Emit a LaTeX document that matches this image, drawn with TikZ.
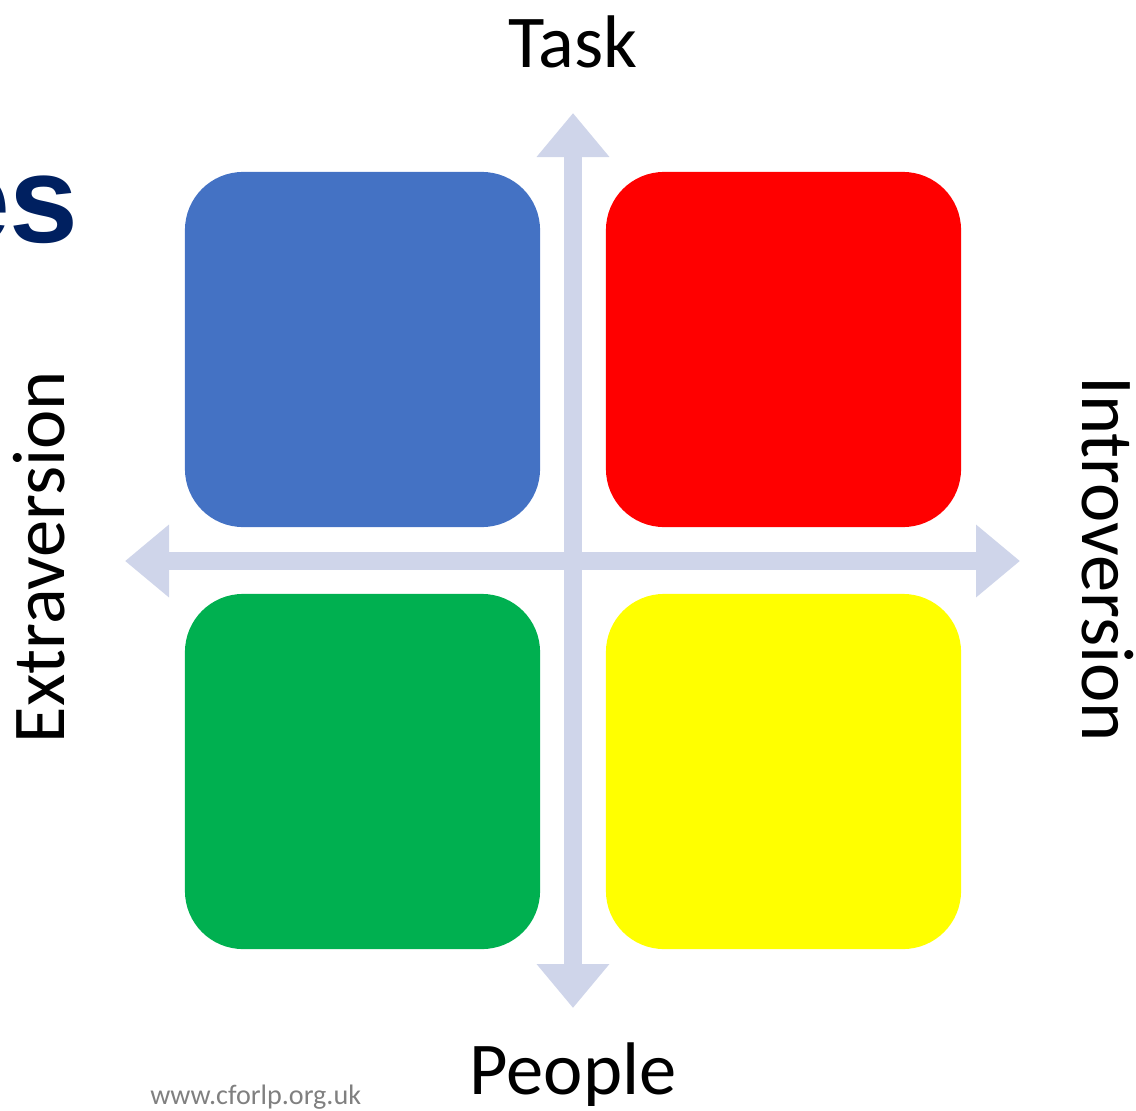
\documentclass[tikz,border=0pt]{standalone}
\usepackage{fontspec}
\setmainfont{Carlito}
\newfontfamily\titlefont{Liberation Sans}
\usetikzlibrary{arrows.meta}

\definecolor{axisgray}{RGB}{207,213,234}
\definecolor{quadblue}{RGB}{68,114,196}
\definecolor{quadred}{RGB}{255,0,0}
\definecolor{quadgreen}{RGB}{0,176,80}
\definecolor{quadyellow}{RGB}{255,255,0}
\definecolor{titlenavy}{RGB}{0,32,96}

\begin{document}
\begin{tikzpicture}[x=0.025cm,y=-0.025cm]
  % Parameters
  \def\boxsize{8.875cm}
  \def\corner{1.45cm}

  \tikzset{
    quad/.style={minimum size=\boxsize, inner sep=0pt, rounded corners=\corner},
    axis/.style={axisgray, line width=0.45cm,
      {Triangle[width=1.75cm,length=1.1cm]}-{Triangle[width=1.75cm,length=1.1cm]}},
    axislabel/.style={font=\fontsize{53}{60}\selectfont, anchor=base}
  }

  \useasboundingbox (0,0) rectangle (1136,1110);

  % Four coloured quadrants
  \foreach \name/\col/\x/\y in {blue/quadblue/362.5/349.5, red/quadred/783.5/349.5,
                                green/quadgreen/362.5/771.5, yellow/quadyellow/783.5/771.5} {
    \node[quad, fill=\col] (\name) at (\x,\y) {};
  }

  % Axes
  \coordinate (top) at (573,113);
  \coordinate (bottom) at (573,1008);
  \coordinate (left) at (125,561);
  \coordinate (right) at (1020,561);
  \draw[axis] (bottom) -- (top);
  \draw[axis] (left) -- (right);

  % Axis labels
  \node[axislabel] (task) at (573,68) {Task};
  \node[axislabel] (people) at (573,1094) {People};
  \node[axislabel, rotate=90] (extra) at (64,557) {Extraversion};
  \node[axislabel, rotate=-90] (intro) at (1082,559) {Introversion};

  % Heading, cut off at the left edge
  \node[anchor=base east, inner sep=0pt, text=titlenavy,
        font=\titlefont\bfseries\fontsize{88}{100}\selectfont] (heading) at (79,242) {es};

  % Web address
  \node[anchor=base west, inner sep=0pt, text=gray,
        font=\fontsize{20}{22}\selectfont] (web) at (150,1104) {www.cforlp.org.uk};
\end{tikzpicture}
\end{document}
